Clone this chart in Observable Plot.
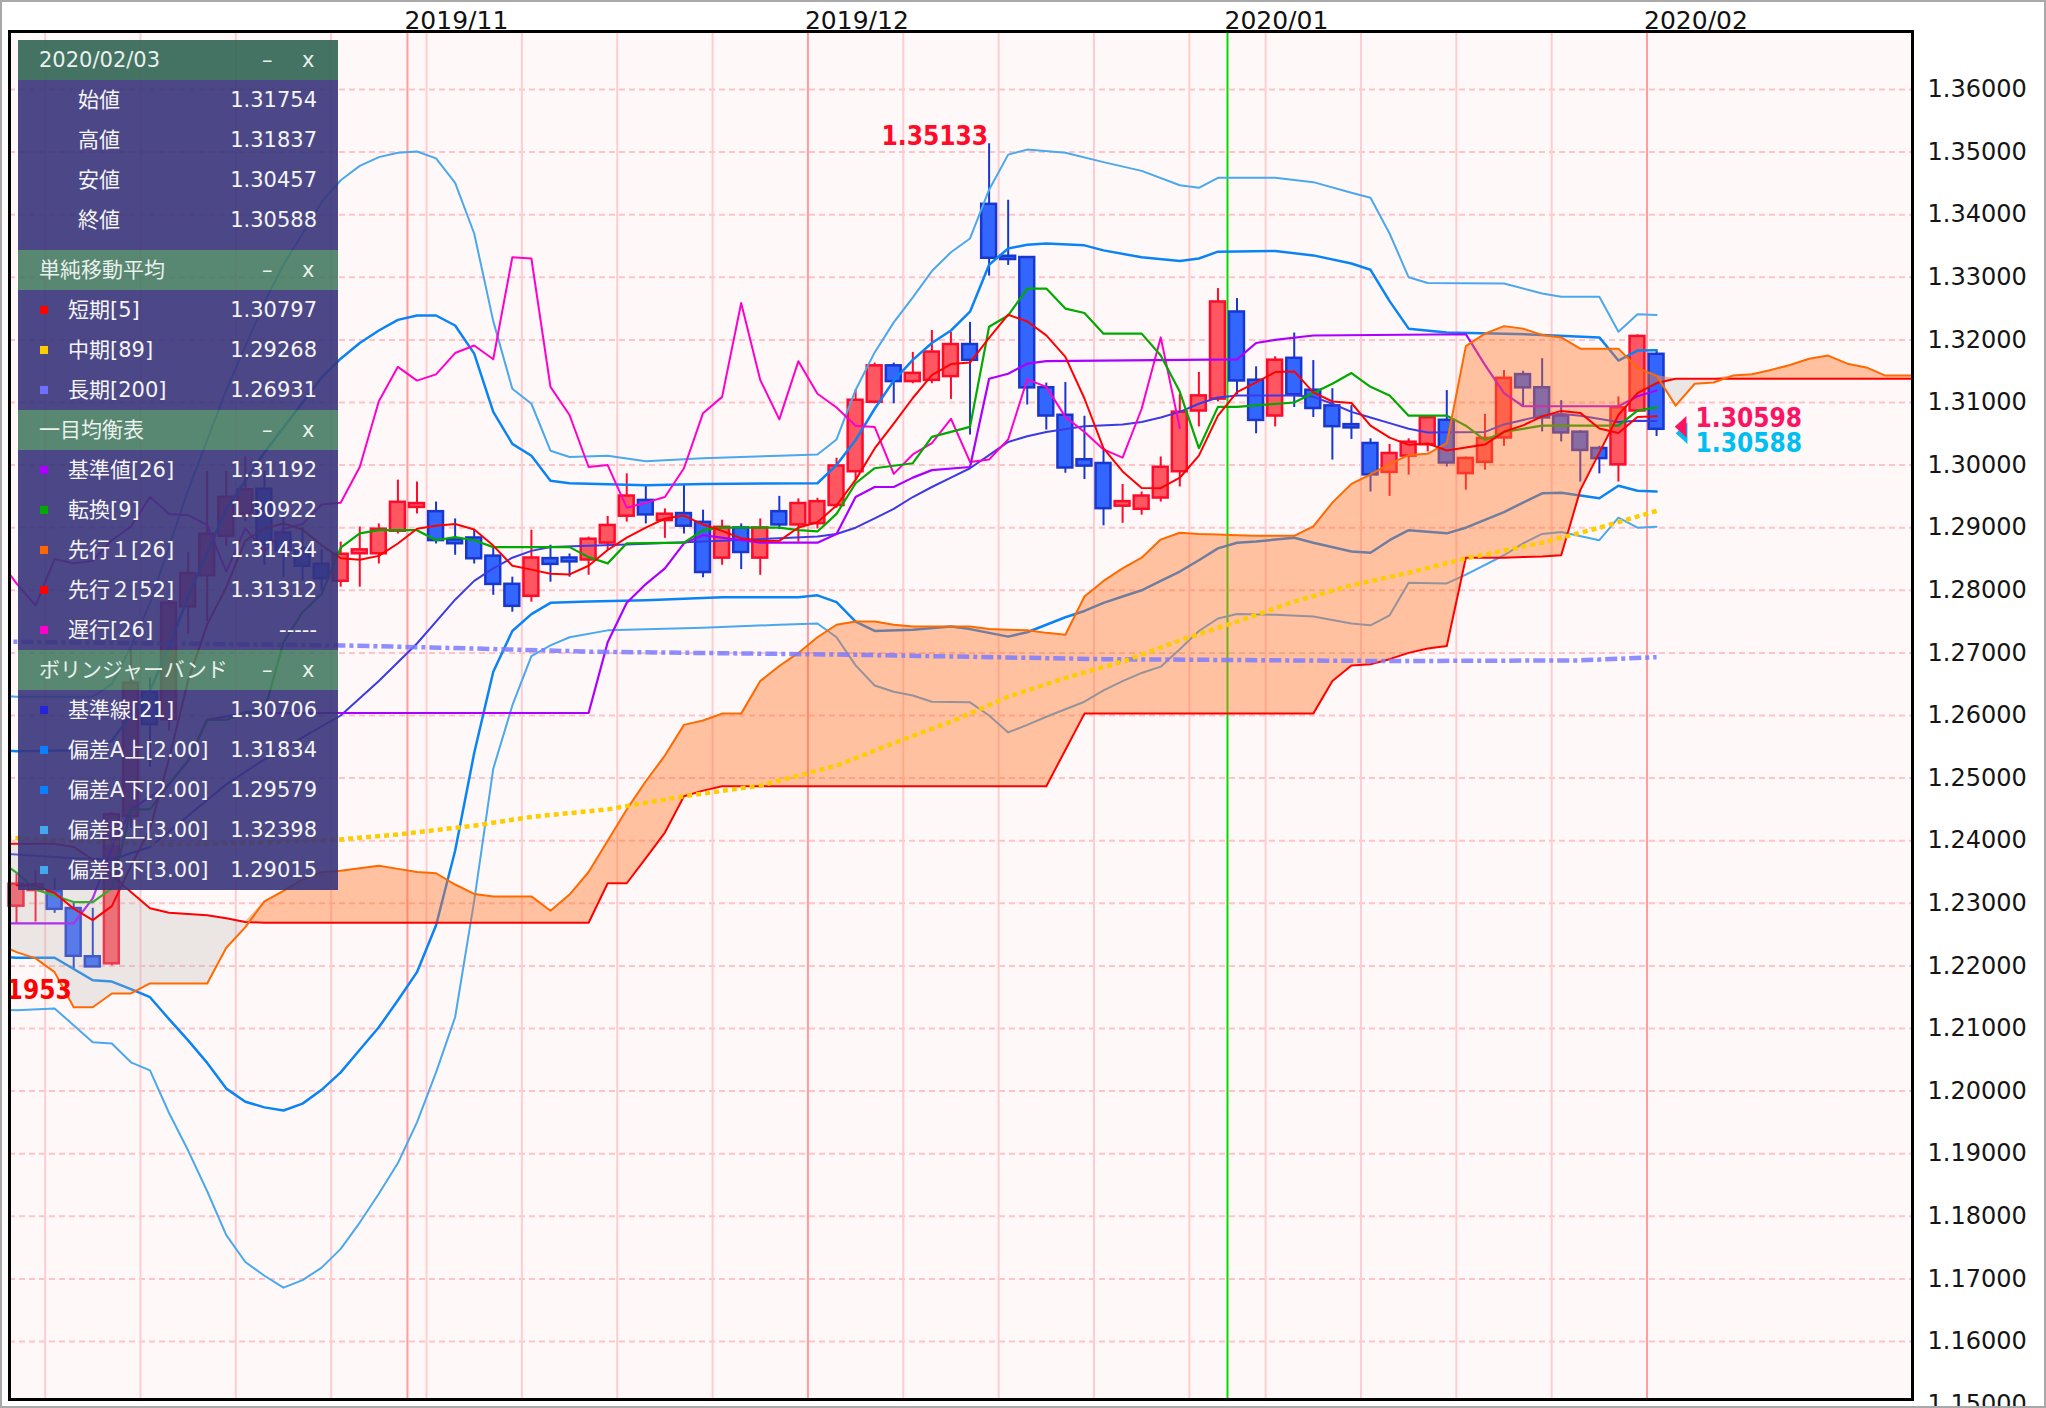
<!DOCTYPE html>
<html><head><meta charset="utf-8">
<script src="https://cdn.jsdelivr.net/npm/d3@7"></script>
<script src="https://cdn.jsdelivr.net/npm/@observablehq/plot@0.6"></script>
<style>
html,body{margin:0;padding:0;background:#fff;}
#wrap{position:relative;width:2046px;height:1408px;overflow:hidden;background:#fff;font-family:"DejaVu Sans","Noto Sans CJK JP",sans-serif;}
#wrap svg{position:absolute;left:0;top:0;}
#border{position:absolute;left:0;top:0;width:2046px;height:1408px;box-sizing:border-box;border:2px solid #a9a9a9;pointer-events:none;}
#legend{position:absolute;left:18px;top:40px;width:320px;}
.hdr{height:40px;line-height:40px;background:rgba(70,122,99,0.9);color:#e9f1ec;position:relative;font-size:21px;}
.hdr.first{background:rgba(52,103,87,0.92);}
.hdr span{position:absolute;}
.body{background:rgba(56,52,123,0.9);color:#f4f4f4;font-size:21px;}
.row{height:40px;line-height:40px;position:relative;}
.row span{position:absolute;}
.sw{width:8px;height:8px;top:16px;left:22px;}
</style></head>
<body><div id="wrap"><div id="legend"></div><div id="border"></div></div>
<script>
// ---- trading days (2019/10/03 .. 2020/02/03) ----
const dates = [
 "2019/10/03","2019/10/04","2019/10/07","2019/10/08","2019/10/09","2019/10/10","2019/10/11","2019/10/14","2019/10/15","2019/10/16","2019/10/17","2019/10/18","2019/10/21","2019/10/22","2019/10/23","2019/10/24","2019/10/25","2019/10/28","2019/10/29","2019/10/30","2019/10/31",
 "2019/11/01","2019/11/04","2019/11/05","2019/11/06","2019/11/07","2019/11/08","2019/11/11","2019/11/12","2019/11/13","2019/11/14","2019/11/15","2019/11/18","2019/11/19","2019/11/20","2019/11/21","2019/11/22","2019/11/25","2019/11/26","2019/11/27","2019/11/28","2019/11/29",
 "2019/12/02","2019/12/03","2019/12/04","2019/12/05","2019/12/06","2019/12/09","2019/12/10","2019/12/11","2019/12/12","2019/12/13","2019/12/16","2019/12/17","2019/12/18","2019/12/19","2019/12/20","2019/12/23","2019/12/24","2019/12/25","2019/12/26","2019/12/27","2019/12/30","2019/12/31",
 "2020/01/02","2020/01/03","2020/01/06","2020/01/07","2020/01/08","2020/01/09","2020/01/10","2020/01/13","2020/01/14","2020/01/15","2020/01/16","2020/01/17","2020/01/20","2020/01/21","2020/01/22","2020/01/23","2020/01/24","2020/01/27","2020/01/28","2020/01/29","2020/01/30","2020/01/31",
 "2020/02/03"];
const open = [1.2297,1.2322,1.2317,1.2290,1.2213,1.2205,1.2440,1.2635,1.2595,1.2775,
 1.2825,1.2888,1.2923,1.2960,1.2890,1.2865,1.2840,1.2816,1.2860,1.2860,
 1.2896,1.2934,1.2924,1.2879,1.2882,1.2853,1.2808,1.2792,1.2849,1.2850,
 1.2850,1.2877,1.2920,1.2942,1.2913,1.2921,1.2907,1.2853,1.2898,1.2853,
 1.2924,1.2906,1.2908,1.2937,1.2991,1.3102,1.3157,1.3135,1.3137,1.3143,
 1.3191,1.3415,1.3332,1.3330,1.3122,1.3078,1.3007,1.3001,1.2936,1.2931,
 1.2949,1.2991,1.3088,1.3107,1.3243,1.3134,1.3080,1.3169,1.3118,1.3093,
 1.3063,1.3033,1.2990,1.3016,1.3034,1.3070,1.2988,1.3006,1.3045,1.3143,
 1.3122,1.3077,1.3051,1.3025,1.3002,1.3088,1.31754];
const high = [1.2347,1.2352,1.2340,1.2300,1.2292,1.2445,1.2705,1.2660,1.2785,1.2860,
 1.2990,1.2990,1.3013,1.2990,1.2920,1.2900,1.2865,1.2877,1.2901,1.2906,
 1.2976,1.2973,1.2941,1.2914,1.2896,1.2869,1.2821,1.2896,1.2872,1.2858,
 1.2885,1.2918,1.2986,1.2969,1.2930,1.2969,1.2928,1.2912,1.2906,1.2914,
 1.2950,1.2946,1.2947,1.3011,1.3120,1.3163,1.3163,1.3180,1.3215,1.3212,
 1.3228,1.35133,1.3423,1.3332,1.3131,1.3132,1.3078,1.3024,1.2969,1.2957,
 1.3013,1.3113,1.3148,1.3282,1.3266,1.3157,1.3173,1.3211,1.3167,1.3122,
 1.3095,1.3042,1.3033,1.3042,1.3078,1.3119,1.3013,1.3081,1.3151,1.3150,
 1.3170,1.3103,1.3055,1.3030,1.3109,1.3208,1.31837];
const low = [1.2268,1.2270,1.2284,1.21953,1.2198,1.2200,1.2420,1.2517,1.2575,1.2730,
 1.2750,1.2870,1.2910,1.2840,1.2820,1.2815,1.2800,1.2805,1.2805,1.2842,
 1.2890,1.2922,1.2874,1.2856,1.2842,1.2792,1.2765,1.2781,1.2813,1.2821,
 1.2824,1.2864,1.2909,1.2906,1.2883,1.2890,1.2820,1.2840,1.2833,1.2824,
 1.2897,1.2877,1.2898,1.2931,1.2976,1.3098,1.3098,1.3130,1.3130,1.3105,
 1.3048,1.3302,1.3319,1.3096,1.3056,1.2987,1.2977,1.2903,1.2907,1.2920,
 1.2941,1.2965,1.3061,1.3101,1.3112,1.3050,1.3061,1.3092,1.3076,1.3008,
 1.3041,1.2957,1.2950,1.2984,1.3021,1.2997,1.2960,1.2992,1.3030,1.3094,
 1.3053,1.3037,1.2973,1.2986,1.2973,1.3085,1.30457];
const close = [1.2329,1.2328,1.2292,1.2217,1.2200,1.2440,1.2650,1.2587,1.2778,1.2825,
 1.2888,1.2947,1.2959,1.2875,1.2865,1.2840,1.2820,1.2856,1.2863,1.2896,
 1.2939,1.2937,1.2881,1.2876,1.2852,1.2811,1.2776,1.2850,1.2843,1.2847,
 1.2880,1.2902,1.2949,1.2922,1.2920,1.2904,1.2830,1.2899,1.2862,1.2898,
 1.2906,1.2937,1.2940,1.2997,1.3102,1.3157,1.3135,1.3145,1.3179,1.3191,
 1.3169,1.3332,1.3330,1.3125,1.3080,1.2997,1.3000,1.2932,1.2940,1.2949,
 1.2995,1.3083,1.3109,1.3259,1.3136,1.3073,1.3166,1.3114,1.3092,1.3063,
 1.3061,1.2986,1.3017,1.3035,1.3074,1.3005,1.3009,1.3041,1.3137,1.3125,
 1.3077,1.3053,1.3025,1.3012,1.3090,1.3204,1.30588];

// ---- axis ticks / calendar marks ----
const priceTicks = [1.15,1.16,1.17,1.18,1.19,1.20,1.21,1.22,1.23,1.24,1.25,1.26,1.27,1.28,1.29,1.30,1.31,1.32,1.33,1.34,1.35,1.36];
const monthStarts = [21, 42, 64, 86];
const monthLabels = ["2019/11","2019/12","2020/01","2020/02"];
const weekStarts = [2,7,12,17,22,27,32,37,42,47,52,57,62,66,71,76,81,86];

// ---- Ichimoku cloud (leading spans), one value per period from index -1 ----
const kumoStart = -1;
const spanA = [1.2235,1.2222,1.2212,1.2190,1.2134,1.2134,1.2156,1.2156,1.2172,1.2172,1.2172,1.2172,1.2229,1.2262,
 1.2303,1.2320,1.2338,1.2350,1.2352,1.2356,1.2360,1.2355,1.2350,1.2348,1.2330,1.2315,1.2311,1.2311,1.2311,1.2288,
 1.2314,1.2350,1.2400,1.2450,1.2495,1.2536,1.2585,1.2592,1.2603,1.2603,1.2655,1.2679,1.2700,1.2725,1.2745,1.2750,
 1.2750,1.2745,1.2742,1.2742,1.2742,1.2742,1.2738,1.2737,1.2736,1.2732,1.2729,1.2790,1.2815,1.2835,1.2852,1.2881,
 1.2892,1.2890,1.2889,1.2888,1.2887,1.2887,1.2887,1.2902,1.2940,1.2970,1.2985,1.3002,1.3016,1.3018,1.3035,1.3190,
 1.3210,1.3222,1.3218,1.3208,1.3204,1.3186,1.3186,1.3186,1.3155,1.3143,1.3095,1.3130,1.3132,1.3143,1.3145,1.3152,
 1.3160,1.3170,1.3175,1.3162,1.3156,1.3143,1.3143,1.3143];
const spanB = [1.2395,1.2395,1.2395,1.2395,1.2390,1.2370,1.2345,1.2318,1.2292,1.2285,1.2283,1.2281,1.2276,1.2270,
 1.2269,1.2269,1.2269,1.2269,1.2269,1.2269,1.2269,1.2269,1.2269,1.2269,1.2269,1.2269,1.2269,1.2269,1.2269,1.2269,1.2269,1.2269,
 1.2332,1.2332,1.2372,1.2413,1.2471,1.2480,
 1.2487,1.2487,1.2487,1.2487,1.2487,1.2487,1.2487,1.2487,1.2487,1.2487,1.2487,1.2487,1.2487,1.2487,1.2487,1.2487,1.2487,1.2487,
 1.2545,
 1.2603,1.2603,1.2603,1.2603,1.2603,1.2603,1.2603,1.2603,1.2603,1.2603,1.2603,1.2603,1.2603,
 1.2655,1.2680,1.2682,1.2690,1.2700,1.2707,1.2711,1.2852,1.2852,1.2852,1.2853,1.2854,1.2856,1.2960,1.3020,1.3080,1.3115,1.3131,
 1.3138,1.3138,1.3138,1.3138,1.3138,1.3138,1.3138,1.3138,1.3138,1.3138,1.3138,1.3138,1.3138,1.3138];

// ---- indicator lines: [period index, value] ----
const tenkan = [[-1,1.2370],[0,1.2349],[1,1.2322],[2,1.2312],[3,1.2302],[4,1.2302],[5,1.2324],[6,1.2450],[7,1.2450],[8,1.2490],[9,1.2528],[10,1.2593],[11,1.2593],[12,1.2606],[13,1.2607],[14,1.2717],[15,1.2765],[16,1.2794],[17,1.2868],[18,1.2891],[19,1.2896],[21,1.2896],[22,1.2880],[23,1.2885],[24,1.2880],[25,1.2869],[29,1.2869],[30,1.2853],[31,1.2843],[32,1.2875],[35,1.2876],[36,1.2896],[37,1.2900],[40,1.2900],[41,1.2896],[42,1.2894],[43,1.2922],[44,1.2971],[45,1.2995],[47,1.3003],[48,1.3045],[50,1.3061],[51,1.3221],[52,1.3239],[53,1.3282],[54,1.3282],[55,1.3250],[56,1.3243],[57,1.3210],[59,1.3210],[60,1.3175],[61,1.3117],[62,1.3027],[63,1.3093],[64,1.3093],[67,1.3100],[68,1.3115],[69,1.3130],[70,1.3147],[71,1.3125],[72,1.3111],[73,1.3079],[75,1.3079],[76,1.3063],[77,1.3040],[78,1.3053],[80,1.3063],[84,1.3063],[85,1.3087],[86,1.30922]];
const kijun = [[-1,1.2268],[3,1.2268],[4,1.2308],[5,1.2388],[6,1.2450],[8,1.2490],[9,1.2528],[10,1.2593],[12,1.2604],[30,1.2604],[31,1.2717],[32,1.2780],[33,1.2810],[34,1.2835],[35,1.2875],[36,1.2888],[38,1.2880],[39,1.2876],[42,1.2876],[43,1.2890],[44,1.2949],[45,1.2965],[46,1.2965],[47,1.2980],[48,1.2992],[50,1.2997],[51,1.3138],[52,1.3146],[53,1.3162],[54,1.3166],[64,1.3169],[65,1.3195],[66,1.3200],[68,1.3207],[76,1.3209],[77,1.3160],[78,1.3115],[79,1.3094],[84,1.3094],[85,1.3110],[86,1.31192]];
const sma89 = [[-1,1.2406],[0,1.2404],[4,1.2398],[8,1.2394],[12,1.2396],[17,1.2402],[20,1.2410],[24,1.2424],[27,1.2438],[31,1.2450],[35,1.2471],[39,1.2488],[43,1.2520],[46,1.2556],[49,1.2590],[52,1.2630],[55,1.2660],[58,1.2686],[61,1.2720],[64,1.2750],[67,1.2782],[70,1.2808],[73,1.2828],[76,1.2851],[80,1.2876],[83,1.2900],[86,1.29268]];
const sma200 = [[-1,1.2718],[17,1.2712],[24,1.2707],[30,1.2702],[44,1.2697],[57,1.2690],[72,1.2687],[82,1.2688],[86,1.26931]];
const bbMid = [[-1,1.2380],[0,1.2378],[3,1.2372],[5,1.2370],[7,1.2390],[9,1.2440],[11,1.2490],[13,1.2530],[15,1.2565],[17,1.2600],[19,1.2655],[21,1.2715],[22,1.2750],[23,1.2785],[24,1.2815],[25,1.2835],[26,1.2852],[27,1.2863],[28,1.2869],[32,1.2873],[37,1.2879],[40,1.2883],[42,1.2886],[43,1.2890],[44,1.2900],[45,1.2915],[46,1.2930],[47,1.2949],[48,1.2965],[49,1.2980],[50,1.2995],[51,1.3016],[52,1.3037],[53,1.3046],[54,1.3053],[56,1.3062],[58,1.3065],[59,1.3069],[60,1.3076],[61,1.3085],[62,1.3098],[63,1.3108],[64,1.3111],[67,1.3111],[68,1.3109],[69,1.3098],[70,1.3085],[71,1.3076],[72,1.3067],[73,1.3058],[74,1.3052],[77,1.3053],[78,1.3065],[80,1.3079],[81,1.3082],[82,1.3079],[84,1.3069],[85,1.3071],[86,1.30706]];
const bbUp2 = [[-1,1.2545],[0,1.2543],[4,1.2545],[5,1.2560],[6,1.2600],[7,1.2640],[8,1.2710],[9,1.2790],[10,1.2860],[11,1.2930],[12,1.2975],[13,1.3020],[14,1.3060],[15,1.3100],[16,1.3140],[17,1.3170],[18,1.3195],[19,1.3215],[20,1.3232],[21,1.3239],[22,1.3239],[23,1.3223],[24,1.3178],[25,1.3085],[26,1.3034],[27,1.3015],[28,1.2975],[29,1.2971],[33,1.2968],[36,1.2970],[42,1.2971],[43,1.3000],[44,1.3040],[45,1.3090],[46,1.3135],[47,1.3168],[48,1.3195],[49,1.3215],[50,1.3245],[51,1.3320],[52,1.3346],[53,1.3352],[54,1.3354],[56,1.3351],[57,1.3343],[59,1.3332],[61,1.3326],[62,1.3330],[63,1.3341],[66,1.3342],[68,1.3335],[70,1.3322],[71,1.3312],[72,1.3262],[73,1.3218],[75,1.3212],[78,1.3210],[80,1.3208],[83,1.3204],[84,1.3167],[85,1.3183],[86,1.31834]];
const bbUp3 = [[-1,1.2632],[0,1.2630],[4,1.2630],[5,1.2650],[6,1.2710],[7,1.2780],[8,1.2870],[9,1.2960],[10,1.3040],[11,1.3120],[12,1.3190],[13,1.3260],[14,1.3320],[15,1.3370],[16,1.3420],[17,1.3455],[18,1.3478],[19,1.3492],[20,1.3499],[21,1.3501],[22,1.3490],[23,1.3451],[24,1.3370],[25,1.3230],[26,1.3122],[27,1.3098],[28,1.3023],[29,1.3013],[31,1.3015],[33,1.3006],[36,1.3011],[40,1.3015],[42,1.3017],[43,1.3041],[44,1.3120],[45,1.3180],[46,1.3228],[47,1.3268],[48,1.3310],[49,1.3340],[50,1.3362],[51,1.3440],[52,1.3496],[53,1.3504],[55,1.3499],[57,1.3484],[59,1.3470],[61,1.3447],[62,1.3443],[63,1.3459],[66,1.3459],[68,1.3452],[70,1.3435],[71,1.3427],[72,1.3370],[73,1.3300],[74,1.3291],[78,1.3290],[80,1.3274],[81,1.3269],[83,1.3269],[84,1.3213],[85,1.3241],[86,1.32398]];
const bbDn2 = [[-1,1.2215],[0,1.2213],[2,1.2213],[4,1.2177],[5,1.2175],[6,1.2163],[7,1.2150],[8,1.2115],[9,1.2081],[10,1.2045],[11,1.2004],[12,1.1983],[13,1.1974],[14,1.1969],[15,1.1980],[16,1.2002],[17,1.2030],[18,1.2066],[19,1.2102],[20,1.2145],[21,1.2190],[22,1.2265],[23,1.2384],[24,1.2540],[25,1.2670],[26,1.2735],[27,1.2762],[28,1.2780],[30,1.2782],[33,1.2784],[37,1.2789],[41,1.2789],[42,1.2792],[43,1.2781],[44,1.2750],[45,1.2735],[47,1.2737],[49,1.2742],[50,1.2738],[52,1.2726],[53,1.2733],[54,1.2745],[55,1.2757],[56,1.2767],[57,1.2780],[58,1.2790],[59,1.2800],[60,1.2815],[61,1.2830],[62,1.2848],[63,1.2867],[64,1.2876],[65,1.2878],[67,1.2884],[68,1.2876],[70,1.2862],[71,1.2860],[72,1.2880],[73,1.2896],[75,1.2891],[76,1.2900],[78,1.2925],[79,1.2940],[80,1.2955],[81,1.2956],[83,1.2947],[84,1.2967],[85,1.2959],[86,1.29579]];
const bbDn3 = [[-1,1.2130],[0,1.2129],[2,1.2132],[4,1.2078],[5,1.2076],[6,1.2046],[7,1.2033],[8,1.1965],[9,1.1905],[10,1.1840],[11,1.1770],[12,1.1727],[13,1.1705],[14,1.1686],[15,1.1698],[16,1.1718],[17,1.1748],[18,1.1790],[19,1.1836],[20,1.1885],[21,1.1950],[22,1.2030],[23,1.2118],[24,1.2304],[25,1.2515],[26,1.2616],[27,1.2695],[28,1.2712],[29,1.2725],[31,1.2736],[36,1.2740],[40,1.2745],[42,1.2747],[43,1.2725],[44,1.2680],[45,1.2648],[46,1.2638],[47,1.2632],[48,1.2622],[50,1.2621],[51,1.2600],[52,1.2573],[53,1.2585],[54,1.2598],[55,1.2610],[56,1.2622],[57,1.2640],[58,1.2655],[59,1.2668],[60,1.2678],[61,1.2706],[62,1.2735],[63,1.2755],[64,1.2762],[66,1.2761],[68,1.2758],[70,1.2747],[71,1.2744],[72,1.2760],[73,1.2812],[75,1.2811],[76,1.2825],[78,1.2856],[79,1.2875],[80,1.2890],[81,1.2893],[83,1.2880],[84,1.2916],[85,1.2900],[86,1.29015]];
const chikouShift = 25;

// ---- price tags at the right of the last candle ----
const priceTags = [{v: 1.30598, label: "1.30598", color: "#fa1464"}, {v: 1.30588, label: "1.30588", color: "#00bef0"}];

// ---- legend panel values ----
const legendMA = [["#ff0000","短期[5]","1.30797"],["#ffcc00","中期[89]","1.29268"],["#7070ff","長期[200]","1.26931"]];
const legendIchi = [["#aa00ff","基準値[26]","1.31192"],["#00aa00","転換[9]","1.30922"],["#ff6600","先行１[26]","1.31434"],["#ff0000","先行２[52]","1.31312"],["#ff00cc","遅行[26]","-----"]];
const legendBB = [["#2424d8","基準線[21]","1.30706"],["#0a80ff","偏差A上[2.00]","1.31834"],["#0a80ff","偏差A下[2.00]","1.29579"],["#44a8ee","偏差B上[3.00]","1.32398"],["#44a8ee","偏差B下[3.00]","1.29015"]];

// ================= build =================
const candles = dates.map((d, i) => ({i, date: d, open: open[i], high: high[i], low: low[i], close: close[i]}));
const ups = candles.filter(d => d.close >= d.open);
const downs = candles.filter(d => d.close < d.open);
const kumo = spanA.map((a, k) => ({i: kumoStart + k, a, b: spanB[k]}));
const chikou = candles.filter(d => d.i >= chikouShift - 1).map(d => [d.i - chikouShift, d.close]);
const hiI = d3.maxIndex(high), loI = d3.minIndex(low);
const last = candles[candles.length - 1];

const L = (pts, stroke, w, extra = {}) => Plot.line(pts, {x: d => d[0], y: d => d[1], stroke, strokeWidth: w, clip: true, ...extra});
const leftTri = {draw(ctx, size) { const s = Math.sqrt(size); ctx.moveTo(-s * 0.3, 0); ctx.lineTo(s * 0.3, -s * 0.55); ctx.lineTo(s * 0.3, s * 0.55); ctx.closePath(); }};
const boldFont = "'DejaVu Sans Condensed', 'DejaVu Sans', sans-serif";

const chart = Plot.plot({
  width: 2046, height: 1408,
  marginTop: 31, marginLeft: 9, marginRight: 134, marginBottom: 9,
  style: {fontFamily: "'DejaVu Sans', sans-serif", fontSize: "24px", background: "transparent", color: "#151515"},
  x: {domain: [-0.367, 99.42], axis: null},
  y: {domain: [1.150735, 1.369265], axis: "right", ticks: priceTicks, tickFormat: d3.format(".5f"), tickSize: 0, tickPadding: 15, label: null},
  marks: [
    Plot.frame({fill: "#fff8f8"}),
    Plot.ruleY(priceTicks, {stroke: "#ffc3c8", strokeWidth: 2, strokeDasharray: "6,4", clip: true}),
    Plot.ruleX(weekStarts, {x: d => d - 0.5, stroke: "#ffcdd1", strokeWidth: 2}),
    Plot.ruleX(monthStarts.filter(m => m !== 64), {x: d => d - 0.5, stroke: "#ff9c9f", strokeWidth: 2}),
    Plot.ruleX(monthStarts.filter(m => m === 64), {x: d => d - 0.5, stroke: "#00dd00", strokeWidth: 2}),
    // candles
    Plot.ruleX(ups, {x: "i", y1: "low", y2: "high", stroke: "#ff0a2a", strokeWidth: 2}),
    Plot.ruleX(downs, {x: "i", y1: "low", y2: "high", stroke: "#1737cf", strokeWidth: 2}),
    Plot.rect(ups, {x1: d => d.i - 0.39, x2: d => d.i + 0.39, y1: "open", y2: "close", fill: "#ff5762", stroke: "#ff0a2a", strokeWidth: 2.5, insetTop: -1, insetBottom: -1}),
    Plot.rect(downs, {x1: d => d.i - 0.39, x2: d => d.i + 0.39, y1: "open", y2: "close", fill: "#3366ff", stroke: "#1737cf", strokeWidth: 2.5, insetTop: -1, insetBottom: -1}),
    // Bollinger bands
    L(bbUp3, "#4aa8ee", 2),
    L(bbDn3, "#4aa8ee", 2),
    L(bbUp2, "#0a84f5", 2.5),
    L(bbDn2, "#0a84f5", 2.5),
    L(bbMid, "#3a3ae6", 2),
    // Ichimoku lines
    L(chikou, "#ff00cc", 2),
    L(kijun, "#aa00ff", 2.2),
    L(tenkan, "#00aa00", 2.2),
    // cloud
    Plot.areaY(kumo, {x: "i", y1: "b", y2: d => Math.max(d.a, d.b), fill: "#ff7426", fillOpacity: 0.42, clip: true}),
    Plot.areaY(kumo, {x: "i", y1: "a", y2: d => Math.max(d.a, d.b), fill: "#b8b2b0", fillOpacity: 0.28, clip: true}),
    Plot.line(kumo, {x: "i", y: "b", stroke: "#ff0000", strokeWidth: 2, clip: true}),
    Plot.line(kumo, {x: "i", y: "a", stroke: "#ff6a00", strokeWidth: 2, clip: true}),
    // moving averages
    L(sma200, "#7b7bff", 4.5, {strokeDasharray: "12,4,4,4", strokeOpacity: 0.85, strokeLinecap: "butt"}),
    L(sma89, "#ffcc00", 4.5, {strokeDasharray: "5,4", strokeLinecap: "butt"}),
    Plot.line(candles, Plot.windowY({k: 5, anchor: "end"}, {x: "i", y: "close", stroke: "#ff0000", strokeWidth: 2, clip: true})),
    // high / low labels
    Plot.text([candles[hiI]], {x: "i", y: "high", text: d => d.high.toFixed(5), textAnchor: "end", lineAnchor: "bottom", dx: -1, dy: 1, fill: "#ff0a28", fontFamily: boldFont, fontWeight: "bold", fontSize: 26, clip: true}),
    Plot.text([candles[loI]], {x: "i", y: "low", text: d => d.low.toFixed(5), textAnchor: "end", lineAnchor: "top", dx: -2, dy: 12, fill: "#ff0000", fontFamily: boldFont, fontWeight: "bold", fontSize: 26, clip: true}),
    // price tags
    Plot.dot([priceTags[1]], {x: () => last.i, y: "v", symbol: leftTri, r: 11, fill: d => d.color, dx: 25, dy: 5, stroke: "none"}),
    Plot.dot([priceTags[0]], {x: () => last.i, y: "v", symbol: leftTri, r: 11, fill: d => d.color, dx: 24, dy: -1, stroke: "none"}),
    Plot.text([priceTags[0]], {x: () => last.i, y: "v", text: "label", fill: d => d.color, textAnchor: "start", lineAnchor: "bottom", dx: 39, dy: -1, fontFamily: boldFont, fontWeight: "bold", fontSize: 26}),
    Plot.text([priceTags[1]], {x: () => last.i, y: "v", text: "label", fill: d => d.color, textAnchor: "start", lineAnchor: "top", dx: 39, dy: 5, fontFamily: boldFont, fontWeight: "bold", fontSize: 26}),
    // month labels
    Plot.text(monthStarts.map((m, k) => ({m, label: monthLabels[k]})), {x: d => d.m - 0.5, text: "label", frameAnchor: "top", lineAnchor: "bottom", textAnchor: "start", dx: -3, dy: -3, fontSize: 25, fill: "#111"}),
    Plot.frame({stroke: "#000", strokeWidth: 3})
  ]
});
const wrap = document.getElementById("wrap");
wrap.insertBefore(chart, wrap.firstChild);

// legend panel
function hdr(t, first) {
  return `<div class="hdr${first ? " first" : ""}"><span style="left:21px">${t}</span><span style="left:244px">–</span><span style="left:284px">x</span></div>`;
}
function items(rows) {
  return `<div class="body">` + rows.map(([c, l, v]) =>
    `<div class="row"><span class="sw" style="background:${c}"></span><span style="left:50px">${l}</span><span style="right:21px">${v}</span></div>`).join("") + `</div>`;
}
const ohlc = [["始値", last.open], ["高値", last.high], ["安値", last.low], ["終値", last.close]];
let html = hdr(last.date, true);
html += `<div class="body" style="padding-bottom:10px">` + ohlc.map(([l, v]) =>
  `<div class="row"><span style="left:60px">${l}</span><span style="right:21px">${v.toFixed(5)}</span></div>`).join("") + `</div>`;
html += hdr("単純移動平均") + items(legendMA);
html += hdr("一目均衡表") + items(legendIchi);
html += hdr("ボリンジャーバンド") + items(legendBB);
document.getElementById("legend").innerHTML = html;
</script>
</body></html>
